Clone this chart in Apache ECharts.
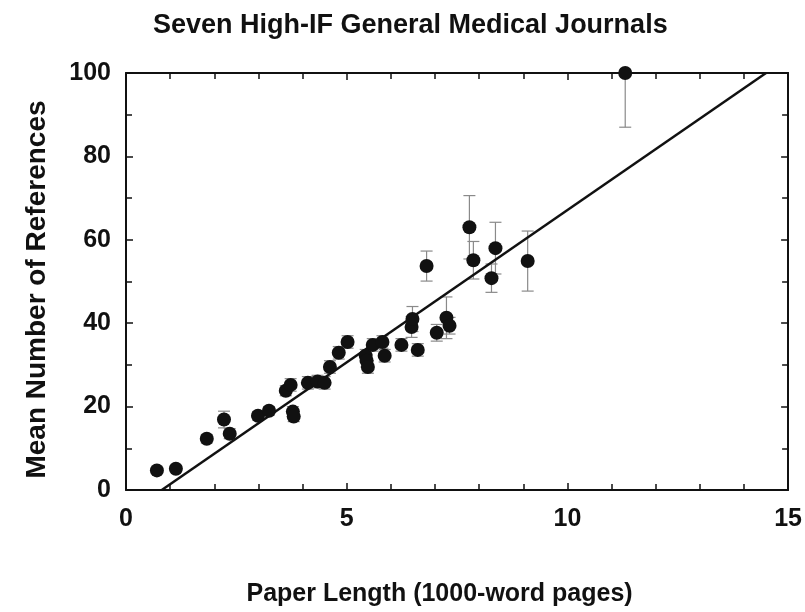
<!DOCTYPE html>
<html>
<head>
  <meta charset="utf-8">
  <script src="https://cdn.jsdelivr.net/npm/echarts@6/dist/echarts.min.js"></script>
  <style>
    html, body { margin: 0; padding: 0; background: #fff; }
    #main { width: 805px; height: 612px; }
  </style>
</head>
<body>
<div id="main"></div>
<script>
// paper length (1000-word pages) per group
var paperLength = [0.70, 1.13, 1.83, 2.22, 2.35, 2.99, 3.24, 3.62, 3.73, 3.78, 3.80,
  4.12, 4.34, 4.50, 4.62, 4.82, 5.02, 5.43, 5.45, 5.48, 5.59, 5.81, 5.86, 6.24,
  6.47, 6.49, 6.61, 6.81, 7.04, 7.26, 7.33, 7.78, 7.87, 8.28, 8.37, 9.10, 11.31];
// mean number of references
var meanRefs = [4.7, 5.1, 12.3, 16.9, 13.5, 17.8, 19.0, 23.8, 25.2, 18.8, 17.6,
  25.7, 26.0, 25.7, 29.5, 32.9, 35.5, 32.2, 31.0, 29.5, 34.8, 35.5, 32.2, 34.8,
  39.1, 41.0, 33.6, 53.7, 37.7, 41.3, 39.4, 63.0, 55.1, 50.8, 58.0, 54.9, 100.0];
// half-width of the error bars
var errHalf = [0.8, 0.8, 1.0, 2.0, 1.2, 1.0, 1.0, 1.2, 1.5, 1.2, 1.2,
  1.5, 1.5, 1.5, 1.5, 1.5, 1.5, 1.5, 1.5, 1.5, 1.5, 1.5, 1.5, 1.5,
  2.5, 3.0, 1.5, 3.6, 2.0, 5.0, 2.0, 7.6, 4.5, 3.4, 6.2, 7.2, 13.0];
// least-squares line end points
var fitX = [0.81, 14.5];
var fitY = [0, 100];

var points = paperLength.map(function (x, i) { return [x, meanRefs[i]]; });
var bars = paperLength.map(function (x, i) {
  return [x, meanRefs[i] - errHalf[i], meanRefs[i] + errHalf[i]];
});
var fit = fitX.map(function (x, i) { return [x, fitY[i]]; });

var font = '"Liberation Sans", Arial, sans-serif';
var chart = echarts.init(document.getElementById('main'), null, { renderer: 'canvas' });

var baseX = {
  type: 'value', min: 0, max: 15, interval: 5,
  axisLine: { show: true, onZero: false, lineStyle: { color: '#111', width: 2 } },
  axisTick: { show: true, inside: true, length: 7, lineStyle: { color: '#111', width: 1.5 } },
  minorTick: { show: true, splitNumber: 5, length: 6, lineStyle: { color: '#111', width: 1.5 } },
  splitLine: { show: false }
};
var baseY = {
  type: 'value', min: 0, max: 100, interval: 20,
  axisLine: { show: true, onZero: false, lineStyle: { color: '#111', width: 2 } },
  axisTick: { show: true, inside: true, length: 7, lineStyle: { color: '#111', width: 1.5 } },
  minorTick: { show: true, splitNumber: 2, length: 6, lineStyle: { color: '#111', width: 1.5 } },
  splitLine: { show: false }
};

chart.setOption({
  animation: false,
  backgroundColor: '#fff',
  title: {
    text: 'Seven High-IF General Medical Journals',
    left: 148, top: 7,
    textStyle: { fontFamily: font, fontSize: 27, fontWeight: 'bold', color: '#111' }
  },
  grid: { left: 126, right: 16, top: 73, bottom: 121 },
  xAxis: [
    Object.assign({}, baseX, {
      position: 'bottom',
      name: 'Paper Length (1000-word pages)',
      nameLocation: 'middle', nameGap: 92,
      nameTextStyle: { fontFamily: font, fontSize: 25, fontWeight: 'bold', color: '#111', padding: [0, 35, 0, 0] },
      axisLabel: { margin: 17, fontFamily: font, fontSize: 25, fontWeight: 'bold', color: '#111' }
    }),
    Object.assign({}, baseX, { position: 'top', axisLabel: { show: false } })
  ],
  yAxis: [
    Object.assign({}, baseY, {
      position: 'left',
      name: 'Mean Number of References',
      nameLocation: 'middle', nameGap: 75,
      nameTextStyle: { fontFamily: font, fontSize: 28, fontWeight: 'bold', color: '#111', padding: [0, 16, 0, 0] },
      axisLabel: { margin: 15, fontFamily: font, fontSize: 25, fontWeight: 'bold', color: '#111' }
    }),
    Object.assign({}, baseY, { position: 'right', axisLabel: { show: false } })
  ],
  series: [
    {
      type: 'custom',
      data: bars,
      z: 2,
      clip: true,
      renderItem: function (params, api) {
        var lo = api.coord([api.value(0), api.value(1)]);
        var hi = api.coord([api.value(0), api.value(2)]);
        var cap = 6;
        var style = { stroke: '#8a8a8a', lineWidth: 1.2 };
        return {
          type: 'group',
          children: [
            { type: 'line', shape: { x1: lo[0], y1: lo[1], x2: hi[0], y2: hi[1] }, style: style },
            { type: 'line', shape: { x1: lo[0] - cap, y1: lo[1], x2: lo[0] + cap, y2: lo[1] }, style: style },
            { type: 'line', shape: { x1: hi[0] - cap, y1: hi[1], x2: hi[0] + cap, y2: hi[1] }, style: style }
          ]
        };
      }
    },
    {
      type: 'line',
      data: fit,
      symbol: 'none',
      z: 3,
      lineStyle: { color: '#111', width: 2.5 }
    },
    {
      type: 'scatter',
      data: points,
      symbol: 'circle',
      symbolSize: 14,
      z: 4,
      itemStyle: { color: '#111', opacity: 1 }
    }
  ]
});
</script>
</body>
</html>
